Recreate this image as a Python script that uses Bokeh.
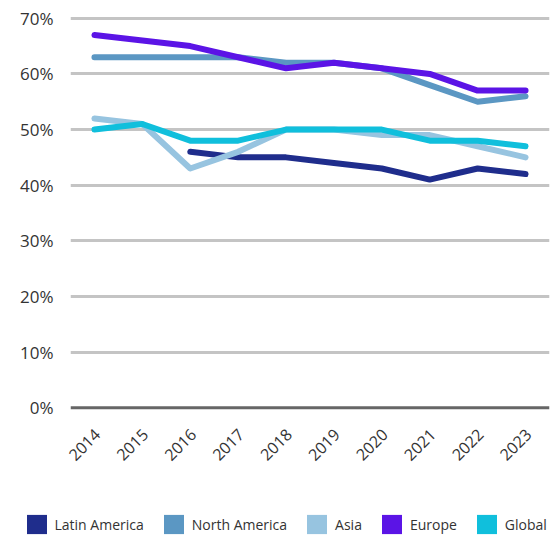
from bokeh.plotting import figure
from bokeh.models import Legend, LegendItem, FixedTicker, Span, Range1d, LinearAxis
from bokeh.layouts import column
from bokeh.embed import file_html
from bokeh.resources import INLINE
import math

years = [2014, 2015, 2016, 2017, 2018, 2019, 2020, 2021, 2022, 2023]
latin_america = [None, None, 46, 45, 45, 44, 43, 41, 43, 42]
north_america = [63, 63, 63, 63, 62, 62, 61, 58, 55, 56]
asia = [52, 51, 43, 46, 50, 50, 49, 49, 47, 45]
europe = [67, 66, 65, 63, 61, 62, 61, 60, 57, 57]
global_ = [50, 51, 48, 48, 50, 50, 50, 48, 48, 47]
y_ticks = [0, 10, 20, 30, 40, 50, 60, 70]
y_tick_labels = {t: f"{t}%" for t in y_ticks}

series = [
    ("Latin America", latin_america, "#1f2d8c"),
    ("North America", north_america, "#5b97c3"),
    ("Asia", asia, "#97c4e0"),
    ("Europe", europe, "#5b14e6"),
    ("Global", global_, "#10bfdc"),
]

FONT = "Open Sans"
TXT = "#333333"

p = figure(width=553, height=500, x_range=(2013.5, 2023.5), y_range=(-0.5, 70.5),
           output_backend="svg", toolbar_location=None, x_axis_location=None,
           min_border_left=70, min_border_right=4, min_border_top=15, min_border_bottom=90)
p.frame_align = False
p.outline_line_color = None
p.background_fill_color = "white"
p.border_fill_color = "white"

# grid
p.xgrid.grid_line_color = None
p.ygrid.ticker = FixedTicker(ticks=[t for t in y_ticks if t != 0])
p.ygrid.grid_line_color = "#c4c4c4"
p.ygrid.grid_line_width = 3

zero = Span(location=0, dimension="width", line_color="#666666", line_width=3)
p.add_layout(zero)

# y axis
p.yaxis.ticker = FixedTicker(ticks=y_ticks)
p.yaxis.major_label_overrides = y_tick_labels
p.yaxis.axis_line_color = None
p.yaxis.major_tick_line_color = None
p.yaxis.minor_tick_line_color = None
p.yaxis.major_tick_out = 0
p.yaxis.minor_tick_out = 0
p.yaxis.major_label_text_font = FONT
p.yaxis.major_label_text_font_size = "17px"
p.yaxis.major_label_text_color = TXT
p.yaxis.major_label_standoff = 17

# x axis (labels nudged slightly right to sit like the reference's rotated labels)
p.extra_x_ranges = {"labels": Range1d(2013.5 - 0.06, 2023.5 - 0.06)}
xaxis = LinearAxis(x_range_name="labels", ticker=FixedTicker(ticks=years))
xaxis.axis_line_color = None
xaxis.major_tick_line_color = None
xaxis.minor_tick_line_color = None
xaxis.major_tick_out = 0
xaxis.minor_tick_out = 0
xaxis.major_label_text_font = FONT
xaxis.major_label_text_font_size = "16px"
xaxis.major_label_text_color = TXT
xaxis.major_label_orientation = math.pi / 4
xaxis.major_label_standoff = 21
p.add_layout(xaxis, "below")

for name, vals, color in series:
    ys = [float("nan") if v is None else v for v in vals]
    p.line(years, ys, line_color=color, line_width=6, line_cap="round", line_join="round")

# legend strip (swatch renderers hold one point kept outside the visible range)
lg = figure(width=553, height=41, x_range=(0, 1), y_range=(0, 1),
            output_backend="svg", toolbar_location=None,
            x_axis_location=None, y_axis_location=None,
            min_border_left=0, min_border_right=0, min_border_top=0, min_border_bottom=0)
lg.frame_align = False
lg.outline_line_color = None
lg.xgrid.visible = False
lg.ygrid.visible = False
items = []
for name, vals, color in series:
    sw = lg.rect(x=[-5], y=[-5], width=1, height=1, fill_color=color, line_color=None)
    items.append(LegendItem(label=name, renderers=[sw]))

legend = Legend(items=items, orientation="horizontal", location=(23.5, 5),
                glyph_width=25, glyph_height=24, label_standoff=6, spacing=17,
                padding=0, margin=0, border_line_color=None, background_fill_alpha=0,
                label_text_font=FONT, label_text_font_size="14px", label_text_color=TXT)
lg.add_layout(legend, "center")

layout = column(p, lg, spacing=0)
open("out.html", "w").write(file_html(layout, INLINE))
